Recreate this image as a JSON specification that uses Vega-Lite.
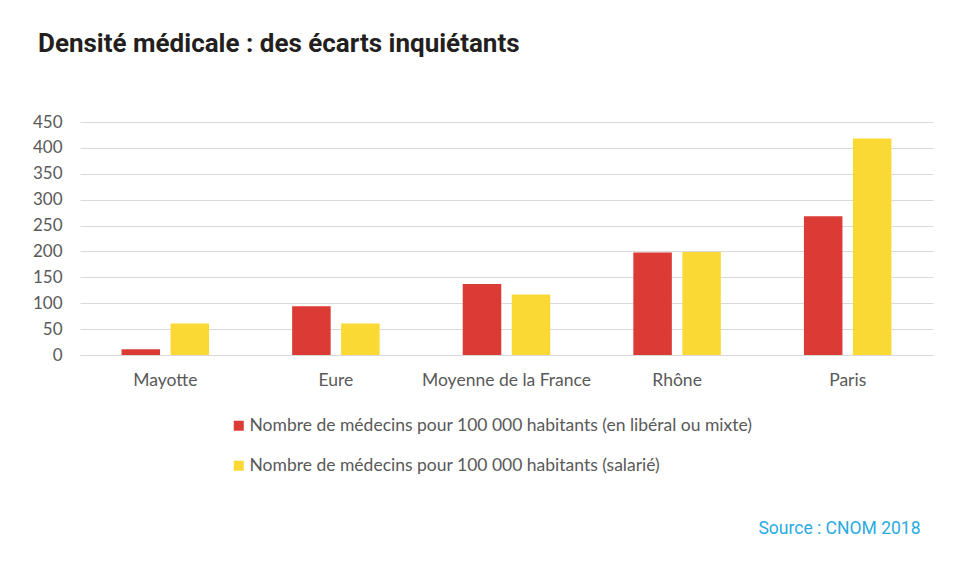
{
  "$schema": "https://vega.github.io/schema/vega-lite/v6.json",
  "width": 853,
  "height": 233,
  "autosize": {"type": "none"},
  "padding": {"left": 80, "top": 122, "right": 23, "bottom": 206},
  "background": "white",
  "title": {
    "text": "Densité médicale : des écarts inquiétants",
    "anchor": "start",
    "frame": "group",
    "font": "Roboto",
    "fontSize": 26,
    "fontWeight": "bold",
    "color": "#231f20",
    "dx": -42,
    "offset": 56
  },
  "data": {
    "values": [
      {"zone": "Mayotte", "serie": "Nombre de médecins pour 100 000 habitants (en libéral ou mixte)", "valeur": 11},
      {"zone": "Mayotte", "serie": "Nombre de médecins pour 100 000 habitants (salarié)", "valeur": 61},
      {"zone": "Eure", "serie": "Nombre de médecins pour 100 000 habitants (en libéral ou mixte)", "valeur": 94},
      {"zone": "Eure", "serie": "Nombre de médecins pour 100 000 habitants (salarié)", "valeur": 61},
      {"zone": "Moyenne de la France", "serie": "Nombre de médecins pour 100 000 habitants (en libéral ou mixte)", "valeur": 137},
      {"zone": "Moyenne de la France", "serie": "Nombre de médecins pour 100 000 habitants (salarié)", "valeur": 117},
      {"zone": "Rhône", "serie": "Nombre de médecins pour 100 000 habitants (en libéral ou mixte)", "valeur": 198},
      {"zone": "Rhône", "serie": "Nombre de médecins pour 100 000 habitants (salarié)", "valeur": 199},
      {"zone": "Paris", "serie": "Nombre de médecins pour 100 000 habitants (en libéral ou mixte)", "valeur": 268},
      {"zone": "Paris", "serie": "Nombre de médecins pour 100 000 habitants (salarié)", "valeur": 418}
    ]
  },
  "mark": {"type": "bar"},
  "encoding": {
    "x": {
      "field": "zone",
      "type": "nominal",
      "sort": null,
      "scale": {"paddingInner": 0.487, "paddingOuter": 0.2435},
      "axis": {
        "labelAngle": 0,
        "labelFont": "Lato",
        "labelFontSize": 17.5,
        "labelColor": "#595959",
        "labelPadding": 16,
        "ticks": false,
        "domain": true,
        "domainColor": "#d9d9d9",
        "title": "Source : CNOM 2018",
        "titleFont": "Roboto",
        "titleFontSize": 17.5,
        "titleFontWeight": "normal",
        "titleColor": "#29abe2",
        "titleAlign": "right",
        "titleBaseline": "alphabetic",
        "titleX": 840,
        "titleY": 178
      }
    },
    "xOffset": {
      "field": "serie",
      "sort": null,
      "scale": {"paddingInner": 0.214, "paddingOuter": 0}
    },
    "y": {
      "field": "valeur",
      "type": "quantitative",
      "scale": {"domain": [0, 450]},
      "axis": {
        "values": [0, 50, 100, 150, 200, 250, 300, 350, 400, 450],
        "title": null,
        "labelFont": "Lato",
        "labelFontSize": 17,
        "labelColor": "#595959",
        "labelPadding": 18,
        "ticks": false,
        "domain": false,
        "gridColor": "#d9d9d9",
        "gridWidth": 1
      }
    },
    "color": {
      "field": "serie",
      "type": "nominal",
      "sort": null,
      "scale": {
        "domain": [
          "Nombre de médecins pour 100 000 habitants (en libéral ou mixte)",
          "Nombre de médecins pour 100 000 habitants (salarié)"
        ],
        "range": ["#db3b34", "#fbd934"]
      },
      "legend": {
        "orient": "none",
        "legendX": 150,
        "legendY": 295,
        "direction": "vertical",
        "title": null,
        "padding": 0,
        "symbolType": "square",
        "symbolSize": 100,
        "symbolStrokeWidth": 0,
        "labelFont": "Lato",
        "labelFontSize": 17.5,
        "labelColor": "#595959",
        "labelOffset": 2,
        "labelLimit": 0,
        "rowPadding": 21
      }
    }
  },
  "config": {"view": {"stroke": null}}
}
